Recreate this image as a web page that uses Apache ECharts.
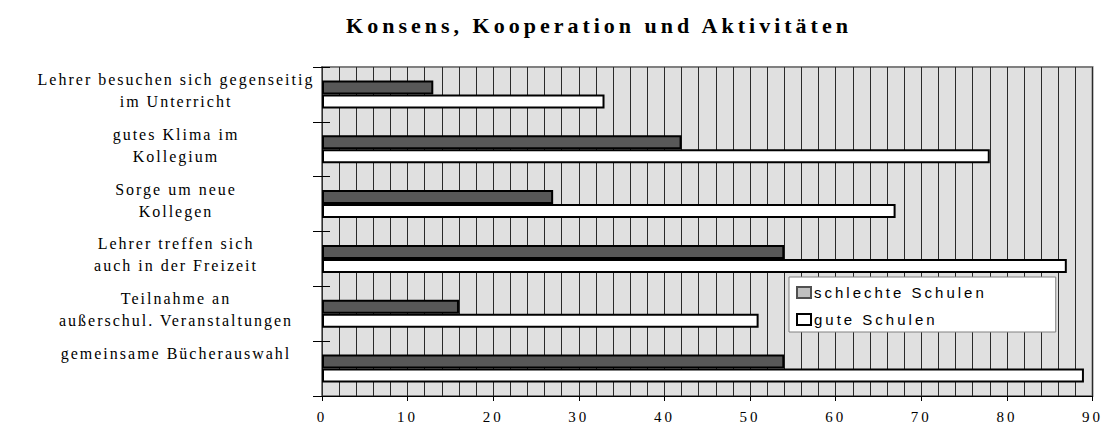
<!DOCTYPE html>
<html>
<head>
<meta charset="utf-8">
<script src="https://cdn.jsdelivr.net/npm/echarts@6/dist/echarts.min.js"></script>
<style>
  html, body { margin: 0; padding: 0; background: #fff; }
  #chart { width: 1103px; height: 424px; }
  /* spaced-out lettering, keyed on each text group's font size */
  #chart text[style*="22px"] { letter-spacing: 4px; }
  #chart text[style*="16px"] { letter-spacing: 2px; }
  #chart text[style*="15px"] { letter-spacing: 3px; }
</style>
</head>
<body>
<div id="chart"></div>
<script>
const titleText = 'Konsens, Kooperation und Aktivitäten';

const categories = [
  'Lehrer besuchen sich gegenseitig\nim Unterricht',
  'gutes Klima im\nKollegium',
  'Sorge um neue\nKollegen',
  'Lehrer treffen sich\nauch in der Freizeit',
  'Teilnahme an\naußerschul. Veranstaltungen',
  'gemeinsame Bücherauswahl'
];

const seriesNames = ['schlechte Schulen', 'gute Schulen'];

const schlechteSchulen = [13, 42, 27, 54, 16, 54];
const guteSchulen = [33, 78, 67, 87, 51, 89];

const xMin = 0;
const xMax = 90;
const xStep = 10;

const serif = '"Liberation Serif", "Times New Roman", serif';
const sans = '"Liberation Sans", Arial, sans-serif';

const chart = echarts.init(document.getElementById('chart'), null, { renderer: 'svg' });

chart.setOption({
  animation: false,
  backgroundColor: '#ffffff',
  title: {
    text: titleText,
    left: 599,
    top: 14,
    padding: 0,
    textAlign: 'center',
    textStyle: { fontFamily: serif, fontSize: 22, fontWeight: 'bold', color: '#000' }
  },
  legend: {
    orient: 'vertical',
    left: 789,
    top: 277,
    padding: [8, 120, 5, 7],
    itemGap: 12,
    itemWidth: 14,
    itemHeight: 11,
    icon: 'rect',
    backgroundColor: '#ffffff',
    borderColor: '#808080',
    borderWidth: 1,
    borderRadius: 0,
    textStyle: { fontFamily: sans, fontSize: 15, color: '#000', padding: [0, 0, 0, -2] },
    data: [
      { name: seriesNames[0], itemStyle: { color: '#c0c0c0', borderColor: '#505050', borderWidth: 2 } },
      { name: seriesNames[1], itemStyle: { color: '#ffffff', borderColor: '#000000', borderWidth: 2 } }
    ]
  },
  grid: {
    left: 322,
    right: 5,
    top: 67,
    bottom: 27,
    show: true,
    backgroundColor: '#e0e0e0',
    borderColor: '#808080',
    borderWidth: 2
  },
  xAxis: {
    type: 'value',
    min: xMin,
    max: xMax,
    interval: xStep,
    axisLine: { show: true, lineStyle: { color: '#000', width: 1 } },
    axisTick: { show: true, length: 5, lineStyle: { color: '#000' } },
    axisLabel: { fontFamily: serif, fontSize: 15, color: '#000', margin: 13 },
    splitLine: { show: true, lineStyle: { color: '#2a2a2a', width: 1 } },
    minorTick: { show: false, splitNumber: 5 },
    minorSplitLine: { show: true, lineStyle: { color: '#2a2a2a', width: 1 } }
  },
  yAxis: [
    {
      type: 'category',
      data: categories,
      inverse: true,
      axisLine: { show: true, lineStyle: { color: '#303030', width: 1 } },
      axisTick: { show: true, length: 9, lineStyle: { color: '#000' } },
      axisLabel: {
        interval: 0,
        fontFamily: serif,
        fontSize: 16,
        lineHeight: 22,
        color: '#000',
        align: 'center',
        verticalAlign: 'top',
        padding: [-26, 0, 0, 0],
        margin: 146
      },
      splitLine: { show: false }
    },
    {
      // inner half of the category tick marks
      type: 'category',
      data: categories,
      inverse: true,
      position: 'left',
      axisLine: { show: false },
      axisTick: { show: true, inside: true, length: 8, lineStyle: { color: '#000' } },
      axisLabel: { show: false },
      splitLine: { show: false }
    }
  ],
  series: [
    {
      name: seriesNames[0],
      type: 'bar',
      data: schlechteSchulen,
      barGap: '0%',
      barCategoryGap: '49%',
      itemStyle: { color: '#585858', borderColor: '#000', borderWidth: 2 }
    },
    {
      name: seriesNames[1],
      type: 'bar',
      data: guteSchulen,
      barGap: '0%',
      barCategoryGap: '49%',
      itemStyle: { color: '#ffffff', borderColor: '#000', borderWidth: 2 }
    }
  ]
});
</script>
</body>
</html>
